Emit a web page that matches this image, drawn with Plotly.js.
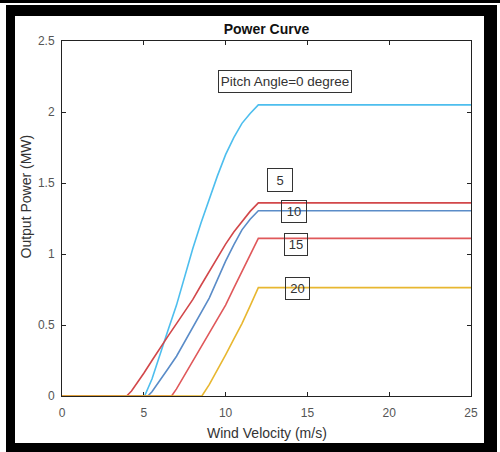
<!DOCTYPE html>
<html>
<head>
<meta charset="utf-8">
<script src="https://cdn.plot.ly/plotly-3.0.1.min.js"></script>
<style>
  html, body { margin: 0; padding: 0; background: #fff; }
  body { width: 500px; height: 452px; position: relative; overflow: hidden; }
  #topline { position: absolute; left: 0; top: 0; width: 500px; height: 3px; background: #000; }
  #frame {
    position: absolute; left: 6px; top: 5px; width: 491px; height: 447px;
    box-sizing: border-box; background: #fff;
    border-style: solid; border-color: #000;
    border-width: 11px 13px 9px 9px;
  }
  #chart { position: absolute; left: 0; top: 0; width: 500px; height: 452px; }
</style>
</head>
<body>
<div id="topline"></div>
<div id="frame"></div>
<div id="chart"></div>
<script>
// Wind velocity (m/s) and output power (MW) for each blade pitch angle
const pitch0X  = [0, 5.05, 5.5, 6, 6.5, 7, 7.5, 8, 8.5, 9, 9.5, 10, 10.5, 11, 11.5, 12, 25];
const pitch0Y  = [0, 0, 0.12, 0.30, 0.47, 0.64, 0.84, 1.04, 1.22, 1.39, 1.55, 1.70, 1.82, 1.92, 1.99, 2.05, 2.05];

const pitch5X  = [0, 3.95, 4.25, 4.5, 5, 5.5, 6, 6.5, 7, 7.5, 8, 8.5, 9, 9.5, 10, 10.5, 11, 11.5, 12, 25];
const pitch5Y  = [0, 0, 0.035, 0.075, 0.16, 0.25, 0.34, 0.425, 0.51, 0.595, 0.68, 0.78, 0.88, 0.975, 1.07, 1.155, 1.23, 1.30, 1.36, 1.36];

const pitch10X = [0, 5.25, 5.5, 6, 6.5, 7, 7.5, 8, 8.5, 9, 9.5, 10, 10.5, 11, 11.5, 12, 25];
const pitch10Y = [0, 0, 0.03, 0.11, 0.195, 0.28, 0.38, 0.48, 0.585, 0.69, 0.82, 0.95, 1.065, 1.17, 1.245, 1.305, 1.305];

const pitch15X = [0, 6.7, 7, 7.5, 8, 8.5, 9, 9.5, 10, 10.5, 11, 11.5, 12, 25];
const pitch15Y = [0, 0, 0.05, 0.15, 0.25, 0.345, 0.44, 0.54, 0.64, 0.76, 0.88, 1.0, 1.11, 1.11];

const pitch20X = [0, 8.55, 9, 9.5, 10, 10.5, 11, 11.5, 12, 25];
const pitch20Y = [0, 0, 0.08, 0.18, 0.29, 0.40, 0.51, 0.635, 0.763, 0.763];

const pitchLabels = ['Pitch Angle=0 degree', '5', '10', '15', '20'];
const xTicks = [0, 5, 10, 15, 20, 25];
const yTicks = [0, 0.5, 1, 1.5, 2, 2.5];
const yTickText = ['0', '0.5', '1', '1.5', '2', '2.5'];

const series = [
  { x: pitch0X,  y: pitch0Y,  color: '#4DBEEE' },
  { x: pitch5X,  y: pitch5Y,  color: '#D2474A' },
  { x: pitch10X, y: pitch10Y, color: '#5A8CC8' },
  { x: pitch15X, y: pitch15Y, color: '#E0585A' },
  { x: pitch20X, y: pitch20Y, color: '#E8B730' }
];

const traces = series.map(s => ({
  type: 'scatter', mode: 'lines',
  x: s.x, y: s.y,
  line: { color: s.color, width: 1.6 },
  cliponaxis: false,
  hoverinfo: 'skip'
}));

// label boxes: [x, y, width, height]
const boxPlaces = [
  [13.63, 2.218, 132, 21],
  [13.33, 1.52, 24, 22],
  [14.16, 1.30, 24, 21],
  [14.30, 1.07, 22, 21],
  [14.39, 0.756, 23, 21]
];

const annotations = pitchLabels.map((t, i) => ({
  x: boxPlaces[i][0], y: boxPlaces[i][1], xref: 'x', yref: 'y',
  text: t, showarrow: false,
  width: boxPlaces[i][2], height: boxPlaces[i][3],
  bordercolor: '#333', borderwidth: 1, borderpad: 0,
  bgcolor: 'rgba(255,255,255,0)',
  font: { family: 'Liberation Sans, Arial, sans-serif', size: i === 0 ? 13.5 : 13, color: '#333' }
}));

annotations.push({
  text: 'Output Power (MW)', textangle: -90,
  xref: 'paper', yref: 'paper', x: -0.088, y: 0.562,
  xanchor: 'center', yanchor: 'middle', showarrow: false,
  font: { family: 'Liberation Sans, Arial, sans-serif', size: 14, color: '#333' }
});
annotations.push({
  text: 'Wind Velocity (m/s)',
  xref: 'paper', yref: 'paper', x: 0.5, y: -0.104,
  xanchor: 'center', yanchor: 'middle', showarrow: false,
  font: { family: 'Liberation Sans, Arial, sans-serif', size: 14, color: '#333' }
});

const axisCommon = {
  showgrid: false, zeroline: false,
  showline: true, linecolor: '#222', linewidth: 1,
  mirror: 'ticks', ticks: 'inside', ticklen: 4, tickcolor: '#222',
  tickfont: { family: 'Liberation Sans, Arial, sans-serif', size: 12, color: '#555' },
  layer: 'below traces'
};

const layout = {
  width: 500, height: 452,
  margin: { l: 62, r: 29, t: 41, b: 56 },
  paper_bgcolor: 'rgba(0,0,0,0)',
  plot_bgcolor: 'rgba(0,0,0,0)',
  showlegend: false,
  title: {
    text: '<b>Power Curve</b>',
    x: 0.533, xanchor: 'center', y: 0.936, yanchor: 'middle',
    font: { family: 'Liberation Sans, Arial, sans-serif', size: 14, color: '#111' }
  },
  xaxis: Object.assign({}, axisCommon, {
    range: [0, 25], tickvals: xTicks, ticktext: xTicks.map(String),
    ticklabelstandoff: 6
  }),
  yaxis: Object.assign({}, axisCommon, {
    range: [0, 2.5], tickvals: yTicks, ticktext: yTickText,
    ticklabelstandoff: 4
  }),
  annotations: annotations
};

Plotly.newPlot('chart', traces, layout, { staticPlot: true, displayModeBar: false });
</script>
</body>
</html>
